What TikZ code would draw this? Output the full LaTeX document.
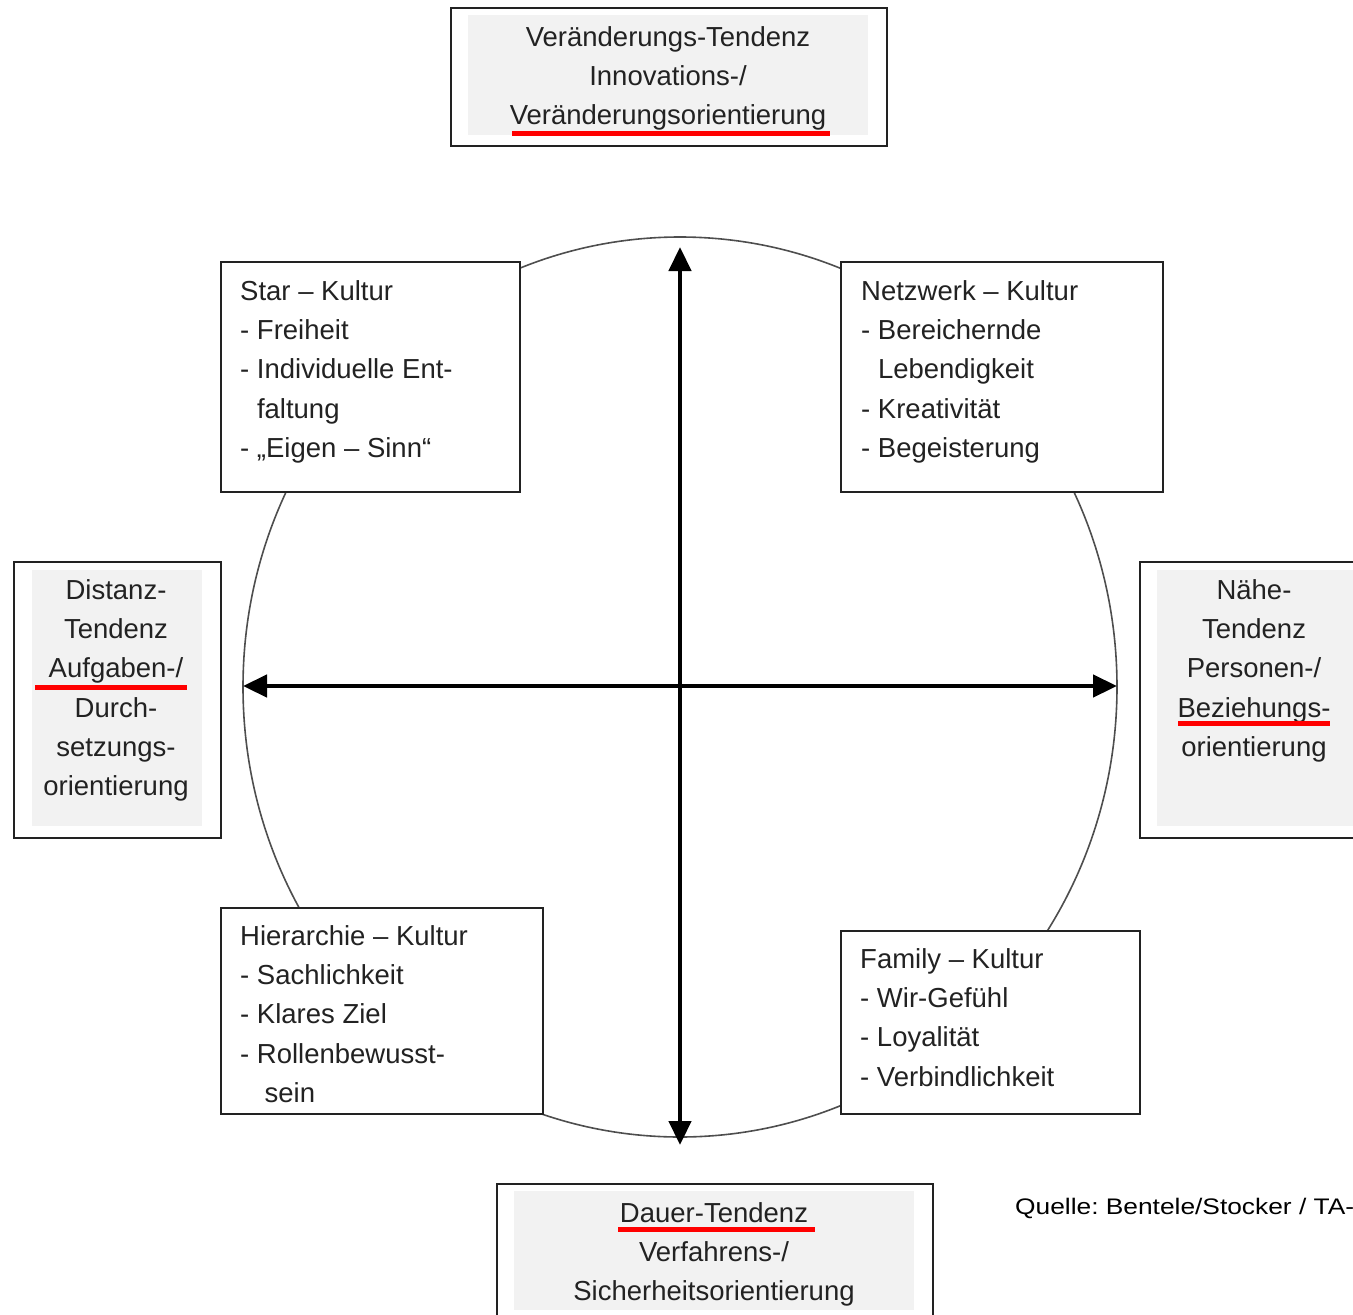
\documentclass[tikz,border=0pt]{standalone}
\usepackage{fontspec}
\setmainfont{Liberation Sans}
\newfontfamily\srcfont[FakeStretch=1.17]{Liberation Sans}
\usetikzlibrary{arrows.meta,shapes.geometric}
\definecolor{boxgray}{HTML}{F2F2F2}
\definecolor{ulred}{HTML}{FF0000}
\definecolor{ink}{HTML}{222222}
\begin{document}
\frenchspacing
\begin{tikzpicture}[x=1pt,y=-1pt,
  frame/.style={draw=ink, line width=1.8pt, fill=white, inner sep=0pt, anchor=north west},
  shade/.style={fill=boxgray, draw=none, inner sep=0pt, anchor=north west},
  txt/.style={font=\fontsize{27.5}{39.3}\selectfont, text=ink, inner sep=0pt},
  ltxt/.style={txt, align=left, anchor=north west},
  ctxt/.style={txt, align=center, anchor=north},
  ul/.style={draw=ulred, line width=5pt},
  axis/.style={line width=4.5pt, {Triangle[length=24pt,width=22pt]}-{Triangle[length=24pt,width=22pt]}},
  rim/.style={draw=ink!80, line width=1.6pt, shape=ellipse, inner sep=0pt}
]
\useasboundingbox (0,0) rectangle (1353,1315);
\clip (0,0) rectangle (1353,1315);

% circle
\node[rim, minimum width=874pt, minimum height=900pt] (circ) at (680,687) {};

% axes
\coordinate (vtop) at (680,247);
\coordinate (vbot) at (680,1145);
\coordinate (hl) at (243,686);
\coordinate (hr) at (1117,686);
\draw[axis] (vbot) -- (vtop);
\draw[axis] (hl) -- (hr);

% top box
\node[frame, minimum width=436pt, minimum height=138pt] (topbox) at (450,7) {};
\node[shade, minimum width=400pt, minimum height=120pt] (topshade) at (468,15) {};
\node[ctxt] (toptxt) at (668,18.4) {\strut Veränderungs-Tendenz\\Innovations-/\\Veränderungsorientierung};
\draw[ul] (512,133) -- (830,133);

% star
\node[frame, minimum width=299pt, minimum height=230pt] (starbox) at (220,261) {};
\node[ltxt] (startxt) at (240,272.4) {\strut Star – Kultur\\- Freiheit\\- Individuelle Ent-\\\phantom{- }faltung\\- „Eigen – Sinn“};

% netzwerk
\node[frame, minimum width=322pt, minimum height=230pt] (netzbox) at (840,261) {};
\node[ltxt] (netztxt) at (861,272.4) {\strut Netzwerk – Kultur\\- Bereichernde\\\phantom{- }Lebendigkeit\\- Kreativität\\- Begeisterung};

% distanz
\node[frame, minimum width=207pt, minimum height=276pt] (distbox) at (13,561) {};
\node[shade, minimum width=170pt, minimum height=256pt] (distshade) at (32,570) {};
\node[ctxt] (disttxt) at (116,571.4) {\strut Distanz-\\Tendenz\\Aufgaben-/\\Durch-\\setzungs-\\orientierung};
\draw[ul] (35,687) -- (187,687);

% naehe
\node[frame, minimum width=225pt, minimum height=276pt] (nahbox) at (1139,561) {};
\node[shade, minimum width=200pt, minimum height=256pt] (nahshade) at (1157,570) {};
\node[ctxt] (nahtxt) at (1254,571.4) {\strut Nähe-\\Tendenz\\Personen-/\\Beziehungs-\\orientierung};
\draw[ul] (1178,723) -- (1330,723);

% hierarchie
\node[frame, minimum width=322pt, minimum height=206pt] (hierbox) at (220,907) {};
\node[ltxt] (hiertxt) at (240,917.4) {\strut Hierarchie – Kultur\\- Sachlichkeit\\- Klares Ziel\\- Rollenbewusst-\\\phantom{- }\ sein};

% family
\node[frame, minimum width=299pt, minimum height=183pt] (fambox) at (840,930) {};
\node[ltxt] (famtxt) at (860,940.4) {\strut Family – Kultur\\- Wir-Gefühl\\- Loyalität\\- Verbindlichkeit};

% dauer
\node[frame, minimum width=436pt, minimum height=140pt] (dauerbox) at (496,1183) {};
\node[shade, minimum width=400pt, minimum height=119pt] (dauershade) at (514,1191) {};
\node[ctxt] (dauertxt) at (714,1194.4) {\strut Dauer-Tendenz\\Verfahrens-/\\Sicherheitsorientierung};
\draw[ul] (618,1229) -- (815,1229);

% source
\node[font=\srcfont\fontsize{22.5}{27}\selectfont, anchor=base west, inner sep=0pt, text=black] (src) at (1015,1214) {Quelle: Bentele/Stocker / TA-};
\end{tikzpicture}
\end{document}
